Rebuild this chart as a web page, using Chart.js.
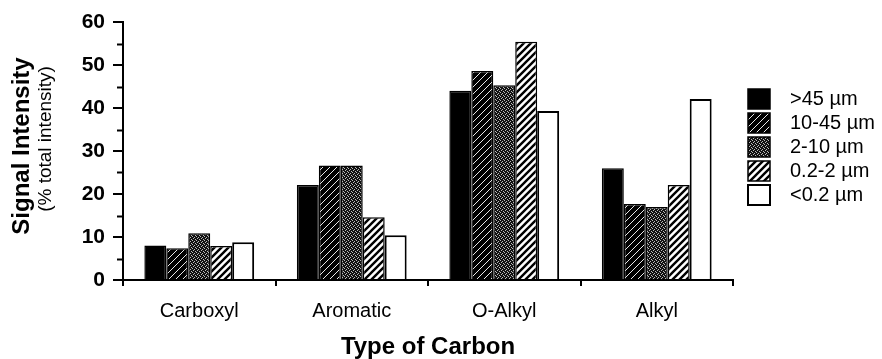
<!DOCTYPE html>
<html>
<head>
<meta charset="utf-8">
<script src="https://cdn.jsdelivr.net/npm/chart.js@4/dist/chart.umd.min.js"></script>
<style>
  body { margin: 0; background: #fff; }
  canvas { display: block; }
</style>
</head>
<body>
<canvas id="chart" width="882" height="359"></canvas>
<script>
// categories and size fractions
var carbonTypes = ['Carboxyl', 'Aromatic', 'O-Alkyl', 'Alkyl'];
var sizeLabels = ['>45 \u00b5m', '10-45 \u00b5m', '2-10 \u00b5m', '0.2-2 \u00b5m', '<0.2 \u00b5m'];

// signal intensity (% total intensity), one array per size fraction
var over45 = [8.0, 22.1, 44.0, 26.0];
var from10to45 = [7.4, 26.6, 48.6, 17.7];
var from2to10 = [10.9, 26.6, 45.3, 17.0];
var from02to2 = [7.9, 14.6, 55.4, 22.1];
var under02 = [8.8, 10.4, 39.3, 42.1];

var yTicks = [0, 10, 20, 30, 40, 50, 60];

// ---------- fill patterns ----------
function makePattern(size, drawTile) {
  var c = document.createElement('canvas');
  c.width = size; c.height = size;
  var g = c.getContext('2d');
  drawTile(g, size);
  return g.createPattern(c, 'repeat');
}

function diagonal(g, s) {
  g.beginPath();
  g.moveTo(0, s); g.lineTo(s, 0);
  g.moveTo(-2, 2); g.lineTo(2, -2);
  g.moveTo(s - 2, s + 2); g.lineTo(s + 2, s - 2);
  g.stroke();
}

var darkHatch = makePattern(7, function (g, s) {
  g.fillStyle = '#000'; g.fillRect(0, 0, s, s);
  g.strokeStyle = '#e8e8e8'; g.lineWidth = 1;
  diagonal(g, s);
});

var stipple = makePattern(4, function (g, s) {
  g.fillStyle = '#111'; g.fillRect(0, 0, s, s);
  g.fillStyle = '#bbb';
  g.fillRect(0, 0, 1, 1); g.fillRect(2, 1, 1, 1);
  g.fillRect(1, 2, 1, 1); g.fillRect(3, 3, 1, 1);
});

var lightHatch = makePattern(7, function (g, s) {
  g.fillStyle = '#fff'; g.fillRect(0, 0, s, s);
  g.strokeStyle = '#000'; g.lineWidth = 2.4;
  diagonal(g, s);
});

var fills = ['#000', darkHatch, stipple, lightHatch, '#fff'];
var seriesValues = [over45, from10to45, from2to10, from02to2, under02];

var datasets = seriesValues.map(function (vals, i) {
  return {
    label: sizeLabels[i],
    data: vals,
    backgroundColor: fills[i],
    borderColor: '#000',
    borderWidth: i === 4 ? 2 : 1.5,
    barPercentage: 1,
    categoryPercentage: 0.72
  };
});

// extra drawing: y titles, minor ticks, legend placement
var extras = {
  id: 'extras',
  afterLayout: function (chart) {
    var lg = chart.legend;
    lg.left = chart.chartArea.right + 11;
    lg.top = 85;
  },
  afterDraw: function (chart) {
    var ctx = chart.ctx;
    var y = chart.scales.y;
    var x0 = chart.chartArea.left;
    ctx.save();
    ctx.strokeStyle = '#000';
    ctx.lineWidth = 2;
    for (var i = 0; i < yTicks.length - 1; i++) {
      var mid = (yTicks[i] + yTicks[i + 1]) / 2;
      var py = Math.round(y.getPixelForValue(mid)) + 0.5;
      ctx.beginPath();
      ctx.moveTo(x0 - 6, py);
      ctx.lineTo(x0, py);
      ctx.stroke();
    }
    ctx.fillStyle = '#000';
    ctx.textAlign = 'center';
    ctx.textBaseline = 'middle';
    ctx.translate(22, 146);
    ctx.rotate(-Math.PI / 2);
    ctx.font = 'bold 24px "Liberation Sans", Arial, sans-serif';
    ctx.fillText('Signal Intensity', 0, 0);
    ctx.font = '19px "Liberation Sans", Arial, sans-serif';
    ctx.fillText('(% total intensity)', 7, 24);
    ctx.restore();
  }
};

Chart.defaults.font.family = '"Liberation Sans", Arial, sans-serif';
Chart.defaults.color = '#000';

var chart = new Chart(document.getElementById('chart'), {
  type: 'bar',
  data: { labels: carbonTypes, datasets: datasets },
  options: {
    responsive: false,
    animation: false,
    layout: { padding: { left: 0, top: 22, right: 0, bottom: 0 } },
    plugins: {
      tooltip: { enabled: false },
      legend: {
        position: 'right',
        align: 'start',
        labels: {
          boxWidth: 22,
          boxHeight: 20,
          padding: 4,
          font: { size: 20 },
          color: '#000',
          // a little more room between box and text, as in the figure
          generateLabels: function (chart) {
            var items = Chart.defaults.plugins.legend.labels.generateLabels(chart);
            items.forEach(function (it) { it.text = '\u2002' + it.text; });
            return items;
          }
        }
      }
    },
    scales: {
      x: {
        grid: { display: true, offset: true, drawOnChartArea: false, drawTicks: true, tickLength: 6, color: '#000', lineWidth: 2 },
        border: { display: true, color: '#000', width: 2 },
        ticks: { font: { size: 20 }, padding: 13, color: '#000', maxRotation: 0 },
        title: { display: true, text: 'Type of Carbon', font: { size: 24, weight: 'bold', lineHeight: 1 }, padding: 0, color: '#000' },
        afterFit: function (s) { s.height = 79; }
      },
      y: {
        min: 0,
        max: 60,
        afterBuildTicks: function (s) { s.ticks = yTicks.map(function (v) { return { value: v }; }); },
        grid: { display: true, drawOnChartArea: false, drawTicks: true, tickLength: 10, color: '#000', lineWidth: 2 },
        border: { display: true, color: '#000', width: 2 },
        ticks: { font: { size: 21, weight: 'bold' }, padding: 8, color: '#000' },
        afterFit: function (s) { s.width = 123; }
      }
    }
  },
  plugins: [extras]
});

// second pass: make the plot end at the right place, legend width known now
chart.options.layout.padding.right = 882 - 733 - chart.legend.width;
chart.update('none');
</script>
</body>
</html>
